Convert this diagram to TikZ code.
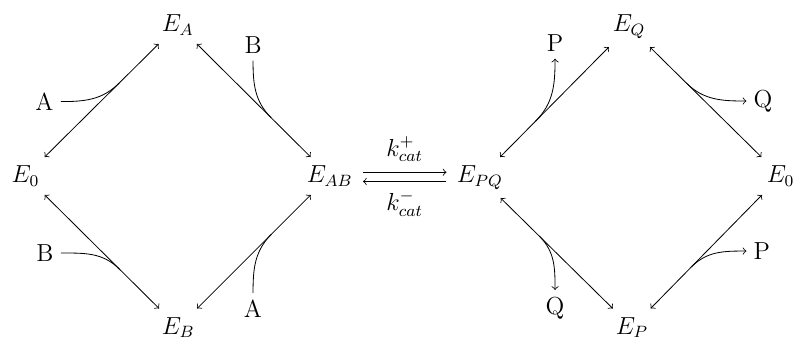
\documentclass[tikz,border=0pt]{standalone}
\usepackage{amsmath,amssymb}
\usepackage{tikz}
\usetikzlibrary{calc}

\begin{document}
\begin{tikzpicture}[>=to, font=\fontsize{12}{14.4}\selectfont,
    state/.style={anchor=base west},
    rxn/.style={<->, shorten <=1pt, shorten >=1pt}]
    \useasboundingbox (0,0) rectangle (13.60,5.79);

    % Enzyme states
    \node[state] (E0L) at (0.077,2.664) {$E_0$};
    \node[state] (EA)  at (2.647,5.250) {$E_A$};
    \node[state] (EB)  at (2.647,0.069) {$E_B$};
    \node[state] (EAB) at (5.130,2.664) {$E_{AB}$};
    \node[state] (EPQ) at (7.700,2.664) {$E_{PQ}$};
    \node[state] (EQ)  at (10.372,5.250) {$E_Q$};
    \node[state] (EP)  at (10.424,0.069) {$E_P$};
    \node[state] (E0R) at (13.010,2.664) {$E_0$};

    % Substrates and products
    \node (A1) at (0.762,4.050) {A};
    \node (B1) at (4.334,5.019) {B};
    \node (B2) at (0.771,1.456) {B};
    \node (A2) at (4.334,0.497) {A};
    \node (P1) at (9.507,5.053) {P};
    \node (Q1) at (13.070,4.060) {Q};
    \node (Q2) at (9.507,0.510) {Q};
    \node (P2) at (13.050,1.490) {P};

    % Binding steps (left)
    \draw[rxn] (E0L) -- coordinate[pos=0.65] (a1) (EA);
    \draw[rxn] (EA) -- coordinate[pos=0.65] (b1) (EAB);
    \draw[rxn] (E0L) -- coordinate[pos=0.65] (b2) (EB);
    \draw[rxn] (EB) -- coordinate[pos=0.65] (a2) (EAB);

    \draw (A1) to[out=0, in=225] (a1);
    \draw (B1) to[out=-90, in=135] (b1);
    \draw (B2) to[out=0, in=135] (b2);
    \draw (A2) to[out=90, in=225] (a2);

    % Catalytic step
    \draw[->, shorten <=1.5pt, shorten >=1.5pt] ([yshift=5pt]EAB.base east)
        -- node[above, yshift=1.5pt] (kp) {$k_{cat}^{+}$} ([yshift=5pt]EPQ.base west);
    \draw[->, shorten <=1.5pt, shorten >=1.5pt] ([yshift=0.5pt]EPQ.base west)
        -- node[below, yshift=-1pt] (km) {$k_{cat}^{-}$} ([yshift=0.5pt]EAB.base east);

    % Release steps (right)
    \draw[rxn] (EPQ) -- coordinate[pos=0.33] (p1) (EQ);
    \draw[rxn] (EQ) -- coordinate[pos=0.33] (q1) (E0R);
    \draw[rxn] (EPQ) -- coordinate[pos=0.35] (q2) (EP);
    \draw[rxn] (EP) -- coordinate[pos=0.37] (p2) (E0R);

    \draw[->] (p1) to[out=45, in=-90] (P1);
    \draw[->] (q1) to[out=-45, in=180] (Q1);
    \draw[->] (q2) to[out=-45, in=90] (Q2);
    \draw[->] (p2) to[out=45, in=180] (P2);
\end{tikzpicture}
\end{document}
